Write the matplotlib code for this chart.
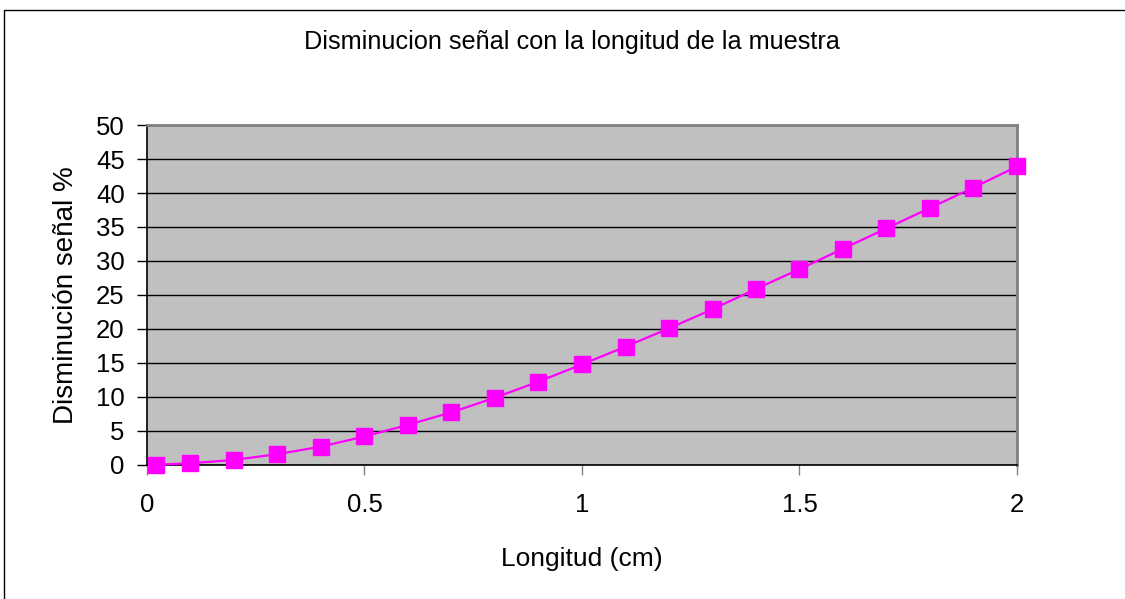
import matplotlib.pyplot as plt
from matplotlib.patches import Rectangle

plt.rcParams["font.family"] = ["Liberation Sans", "DejaVu Sans"]

# longitud de la muestra (cm) y disminucion de la señal (%)
longitud = [0.02, 0.1, 0.2, 0.3, 0.4, 0.5, 0.6, 0.7, 0.8, 0.9, 1.0,
            1.1, 1.2, 1.3, 1.4, 1.5, 1.6, 1.7, 1.8, 1.9, 2.0]
disminucion = [0.05, 0.25, 0.75, 1.6, 2.7, 4.2, 5.9, 7.75, 9.9, 12.25, 14.8,
               17.4, 20.1, 22.9, 25.9, 28.8, 31.8, 34.8, 37.8, 40.8, 43.9]

x_ticks = [0, 0.5, 1, 1.5, 2]
x_tick_labels = ["0", "0.5", "1", "1.5", "2"]
y_ticks = list(range(0, 51, 5))

W, H = 1125, 599
fig = plt.figure(figsize=(W / 100, H / 100), dpi=100)
fig.patch.set_facecolor("white")

# marco exterior del grafico
fig.patches.append(Rectangle((4 / W, -0.05), 1.2, 1 - 10 / H + 0.05,
                             transform=fig.transFigure, fill=False,
                             edgecolor="black", linewidth=1))

ax = fig.add_axes([147 / W, 1 - 465 / H, (1017 - 147) / W, (465 - 125) / H])
ax.set_facecolor("#C0C0C0")

ax.plot(longitud, disminucion, color="#FF00FF", linewidth=1.6, marker="s",
        markersize=11, markeredgecolor="#FF00FF", clip_on=False, zorder=3)

ax.set_xlim(0, 2)
ax.set_ylim(0, 50)
ax.set_xticks(x_ticks, x_tick_labels)
ax.set_yticks(y_ticks)
ax.grid(axis="y", color="black", linewidth=1)
ax.set_axisbelow(True)

for side in ["top", "right"]:
    ax.spines[side].set_color("#808080")
    ax.spines[side].set_linewidth(2)
for side in ["left", "bottom"]:
    ax.spines[side].set_color("black")
    ax.spines[side].set_linewidth(1.2)

ax.tick_params(axis="y", direction="out", length=7, width=1, colors="black",
               labelsize=18.5, pad=9)
ax.tick_params(axis="x", direction="out", length=7, width=1, color="#808080",
               labelcolor="black", labelsize=18.5, pad=13)

ax.set_xlabel("Longitud (cm)", fontsize=19, labelpad=22)
ax.set_ylabel("Disminución señal %", fontsize=20, labelpad=12)
fig.text(572 / W, 1 - 42 / H,
         "Disminucion señal con la longitud de la muestra",
         ha="center", va="center", fontsize=18.2)

fig.savefig("out.png", dpi=100)
